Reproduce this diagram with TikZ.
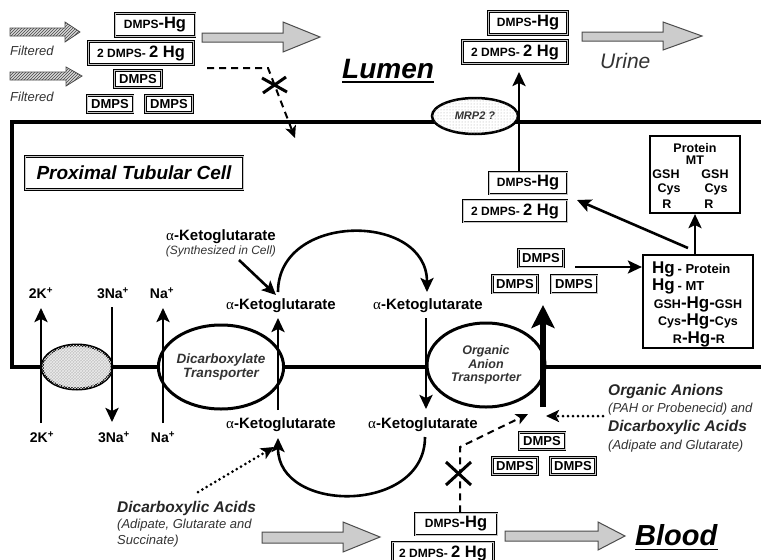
\documentclass[tikz,border=0pt]{standalone}
\usepackage{fontspec}
\setmainfont{Liberation Sans}
\newfontfamily\serifalpha{Liberation Serif}
\usetikzlibrary{arrows.meta,patterns,shapes.geometric}
\newcommand\fsz[1]{\fontsize{#1}{#1}\selectfont}
\newcommand\dmpshg{{\fsz{12}DMPS}{\fsz{16.5}-Hg}}
\newcommand\twodmps{{\fsz{12}2 DMPS- }{\fsz{16.5}2 Hg}}
\newcommand\aK{{\serifalpha\mdseries α}-Ketoglutarate}
\tikzset{
  mem/.style={line width=3.5pt},
  arr/.style={line width=2.6pt,-{Stealth[length=14pt,width=13pt,inset=3pt]}},
  dashedarr/.style={line width=2pt,dash pattern=on 7pt off 5pt,-{Stealth[length=12pt,width=11pt,inset=3pt]}},
  dotarr/.style={line width=3pt,dash pattern=on 0pt off 5pt,line cap=round,-{Stealth[length=13pt,width=12pt,inset=3pt]}},
  dbox/.style={draw,double=gray!45,line width=1.1pt,double distance=0.7pt,inner sep=0pt,font=\bfseries,fill=white},
  sbox/.style={dbox,minimum height=17pt,font=\bfseries\fsz{13}},
  membr/.style={ellipse,draw,line width=3pt,fill=white,inner sep=0pt,align=center,font=\bfseries\itshape,text=black!80},
  ion/.style={font=\bfseries\fsz{14}},
  akg/.style={font=\bfseries\fsz{15}},
  grayarrow/.style={draw=black!70,line width=1pt,fill=gray!40},
  hatcharrow/.style={draw=gray!60!black,line width=0.8pt,fill=gray!30,postaction={pattern=north east lines,pattern color=gray!55!black}},
  note/.style={font=\itshape\fsz{13},text=black!80,anchor=base west,inner sep=0pt},
  bnote/.style={font=\bfseries\itshape\fsz{15.5},text=black!85,anchor=base west,inner sep=0pt},
  xmark/.style={line width=3pt},
  txt/.style={inner sep=0pt,font=\bfseries}
}
\begin{document}
\begin{tikzpicture}[x=1pt,y=-1pt]
\useasboundingbox[fill=white] (0,0) rectangle (761,560);

% cell membrane
\draw[mem] (763,122) -- (12,122) -- (12,367) -- (763,367);

% ---------- lumen ----------
\draw[hatcharrow] (10,28) -- (65,28) -- (65,22) -- (80,32) -- (65,42) -- (65,36) -- (10,36) -- cycle;
\draw[hatcharrow] (10,72) -- (66,72) -- (66,67) -- (82,76) -- (66,86) -- (66,80) -- (10,80) -- cycle;
\node[note] (filt1) at (10,55) {Filtered};
\node[note] (filt2) at (10,101) {Filtered};

\node[dbox,minimum width=80pt,minimum height=23pt] (lhg) at (155,25) {\dmpshg};
\node[dbox,minimum width=105pt,minimum height=23pt] (l2hg) at (141,53) {\twodmps};
\node[sbox,minimum width=47pt] (ld1) at (138,79) {DMPS};
\node[sbox,minimum width=46pt] (ld2) at (110,104) {DMPS};
\node[sbox,minimum width=47pt] (ld3) at (169,104) {DMPS};

\draw[grayarrow] (202,33) -- (283,33) -- (283,22) -- (320,37) -- (283,52) -- (283,42) -- (202,42) -- cycle;

\coordinate (dstart) at (207,68);
\coordinate (dbend) at (268,68);
\coordinate (dend) at (295,138);
\draw[dashedarr] (dstart) -- (dbend) -- (dend);
\draw[xmark] (262,78) -- (287,92);
\draw[xmark] (263,93) -- (286,77);

\node[anchor=base west,inner sep=0pt,font=\bfseries\itshape\fsz{28}] (lumen) at (342,78) {Lumen};
\draw[line width=1.8pt] ([yshift=-4pt]lumen.base west) -- ([yshift=-4pt]lumen.base east);

\node[dbox,minimum width=79pt,minimum height=23pt] (uhg) at (528,23) {\dmpshg};
\node[dbox,minimum width=105pt,minimum height=23pt] (u2hg) at (515,52) {\twodmps};
\draw[grayarrow] (582,32) -- (663,32) -- (663,22) -- (702,36) -- (663,50) -- (663,41) -- (582,41) -- cycle;
\node[anchor=base west,inner sep=0pt,font=\itshape\fsz{21},text=black!80] (urine) at (600,68) {Urine};

% MRP2
\node[membr,minimum width=86pt,minimum height=36pt,line width=2.5pt,font=\bfseries\itshape\fsz{11},
      postaction={pattern=dots,pattern color=gray!70}] (mrp) at (475,116) {MRP2 ?};

% ---------- cell ----------
\node[dbox,minimum width=218pt,minimum height=33pt,font=\bfseries\itshape\fsz{19}] (ptc) at (134,173) {Proximal Tubular Cell};

\node[akg] (akgsyn) at (221,237) {\aK};
\node[txt,font=\itshape\fsz{12},text=black!80] (syn) at (221,251) {(Synthesized in Cell)};
\node[akg] (akg1) at (281,306) {\aK};
\node[akg] (akg2) at (428,306) {\aK};
\node[akg] (akg3) at (281,425) {\aK};
\node[akg] (akg4) at (423,425) {\aK};

\coordinate (synend) at (276,295);
\draw[arr] (239,260) -- (synend);

\coordinate (arcA) at (278,292);
\coordinate (arcB) at (427,292);
\draw[arr] (arcA) .. controls (278,212) and (427,212) .. (arcB);
\coordinate (arcC) at (425,437);
\coordinate (arcD) at (278,438);
\draw[arr] (arcC) .. controls (425,514) and (278,514) .. (arcD);

% membrane transporters
\node[ellipse,draw,line width=3pt,minimum width=70pt,minimum height=44pt,fill=gray!45,
      postaction={pattern=crosshatch,pattern color=gray!15}] (pump) at (77,367) {};
\node[membr,minimum width=114pt,minimum height=84pt,font=\bfseries\itshape\fsz{13.5}] (dt) at (221,367) {Dicarboxylate\\[1pt]Transporter};
\node[membr,minimum width=118pt,minimum height=84pt,font=\bfseries\itshape\fsz{12.5}] (oat) at (486,365) {Organic\\[1pt]Anion\\[1pt]Transporter};

% ions
\node[ion] (k1) at (41,293) {2K\textsuperscript{+}};
\node[ion] (k2) at (42,437) {2K\textsuperscript{+}};
\node[ion] (na1) at (113,293) {3Na\textsuperscript{+}};
\node[ion] (na2) at (114,437) {3Na\textsuperscript{+}};
\node[ion] (n1) at (162,293) {Na\textsuperscript{+}};
\node[ion] (n2) at (163,437) {Na\textsuperscript{+}};
\coordinate (kb) at (41,423);  \coordinate (kt) at (41,308);
\coordinate (nat) at (112,307); \coordinate (nab) at (112,422);
\coordinate (nb) at (163,423); \coordinate (ntop) at (163,308);
\draw[arr] (kb) -- (kt);
\draw[arr] (nat) -- (nab);
\draw[arr] (nb) -- (ntop);
\coordinate (dtb) at (278,410); \coordinate (dtt) at (278,318);
\draw[arr] (dtb) -- (dtt);
\coordinate (oatt) at (426,318); \coordinate (oatb) at (426,409);
\draw[arr] (oatt) -- (oatb);
\coordinate (thb) at (543,407); \coordinate (tht) at (543,305);
\draw[line width=6pt,-{Stealth[length=23pt,width=23pt,inset=5pt]}] (thb) -- (tht);

% inside upper right
\node[dbox,minimum width=78pt,minimum height=22pt] (ihg) at (528,183) {\dmpshg};
\node[dbox,minimum width=104pt,minimum height=22pt] (i2hg) at (515,211) {\twodmps};
\draw[arr] (ihg.north -| 519,0) -- (519,72) coordinate (mrpup);
\node[sbox,minimum width=45pt,minimum height=18pt] (id1) at (541,258) {DMPS};
\node[sbox,minimum width=45pt,minimum height=18pt] (id2) at (515,284) {DMPS};
\node[sbox,minimum width=46pt,minimum height=18pt] (id3) at (574,284) {DMPS};

\node[draw,line width=2.2pt,minimum width=110pt,minimum height=93pt,inner sep=0pt] (hgbox) at (698,301.5) {};
\node[txt,anchor=base west] (hg1) at (652,273) {{\fsz{17}Hg} {\fsz{13}- Protein}};
\node[txt,anchor=base west] (hg2) at (652,290) {{\fsz{17}Hg} {\fsz{13}- MT}};
\node[txt,anchor=base] (hg3) at (698,308) {{\fsz{12.5}GSH}{\fsz{17}-Hg-}{\fsz{12.5}GSH}};
\node[txt,anchor=base] (hg4) at (698,325) {{\fsz{12.5}Cys}{\fsz{17}-Hg-}{\fsz{12.5}Cys}};
\node[txt,anchor=base] (hg5) at (699,343) {{\fsz{12.5}R}{\fsz{17}-Hg-}{\fsz{12.5}R}};

\node[draw,line width=2.2pt,minimum width=90pt,minimum height=77pt,inner sep=0pt] (pbox) at (695,174.5) {};
\node[txt,font=\bfseries\fsz{12.5}] (p1) at (695,148) {Protein};
\node[txt,font=\bfseries\fsz{12.5}] (p2) at (695,160) {MT};
\node[txt,font=\bfseries\fsz{12.5}] (p3) at (666,174) {GSH};
\node[txt,font=\bfseries\fsz{12.5}] (p4) at (715,174) {GSH};
\node[txt,font=\bfseries\fsz{12.5}] (p5) at (669,189) {Cys};
\node[txt,font=\bfseries\fsz{12.5}] (p6) at (716,189) {Cys};
\node[txt,font=\bfseries\fsz{12.5}] (p7) at (667,204) {R};
\node[txt,font=\bfseries\fsz{12.5}] (p8) at (709,204) {R};

\draw[arr] (575,267) -- (hgbox.west |- 0,267);
\draw[arr] (hgbox.north -| 695,0) -- (pbox.south -| 695,0);
\coordinate (backstart) at (688,248);
\coordinate (backend) at (577,200);
\draw[arr] (backstart) -- (backend);

% ---------- blood side ----------
\node[sbox,minimum width=46pt] (bd1) at (542,441) {DMPS};
\node[sbox,minimum width=45pt] (bd2) at (515,466) {DMPS};
\node[sbox,minimum width=45pt] (bd3) at (573,466) {DMPS};

\node[bnote] (oa1) at (608,395) {Organic Anions};
\node[note] (oa2) at (608,412) {(PAH or Probenecid) and};
\node[bnote] (oa3) at (608,431) {Dicarboxylic Acids};
\node[note] (oa4) at (608,449) {(Adipate and Glutarate)};
\coordinate (oaend) at (546,416);
\draw[dotarr] (603,416) -- (oaend);

\node[bnote] (da1) at (117,512) {Dicarboxylic Acids};
\node[note] (da2) at (117,528) {(Adipate, Glutarate and};
\node[note] (da3) at (117,544) {Succinate)};
\coordinate (dastart) at (198,492);
\coordinate (daend) at (274,447);
\draw[dotarr] (dastart) -- (daend);

\node[dbox,minimum width=82pt,minimum height=22pt] (bhg) at (456,524) {\dmpshg};
\node[dbox,minimum width=101pt,minimum height=22pt] (b2hg) at (443,553) {\twodmps};
\coordinate (bbend) at (460,447);
\coordinate (bend) at (528,414);
\draw[dashedarr] (bhg.north -| 460,0) -- (bbend) -- (bend);
\draw[xmark] (446,462) -- (471,485);
\draw[xmark] (446,485) -- (471,462);

\draw[grayarrow] (262,532) -- (343,532) -- (343,522) -- (380,537) -- (343,552) -- (343,543) -- (262,543) -- cycle;
\draw[grayarrow] (505,531) -- (598,531) -- (598,522) -- (625,536) -- (598,550) -- (598,541) -- (505,541) -- cycle;

\node[anchor=base west,inner sep=0pt,font=\bfseries\itshape\fsz{29}] (blood) at (635,545) {Blood};
\draw[line width=1.8pt] ([yshift=-4.5pt]blood.base west) -- ([yshift=-4.5pt]blood.base east);
\end{tikzpicture}
\end{document}
